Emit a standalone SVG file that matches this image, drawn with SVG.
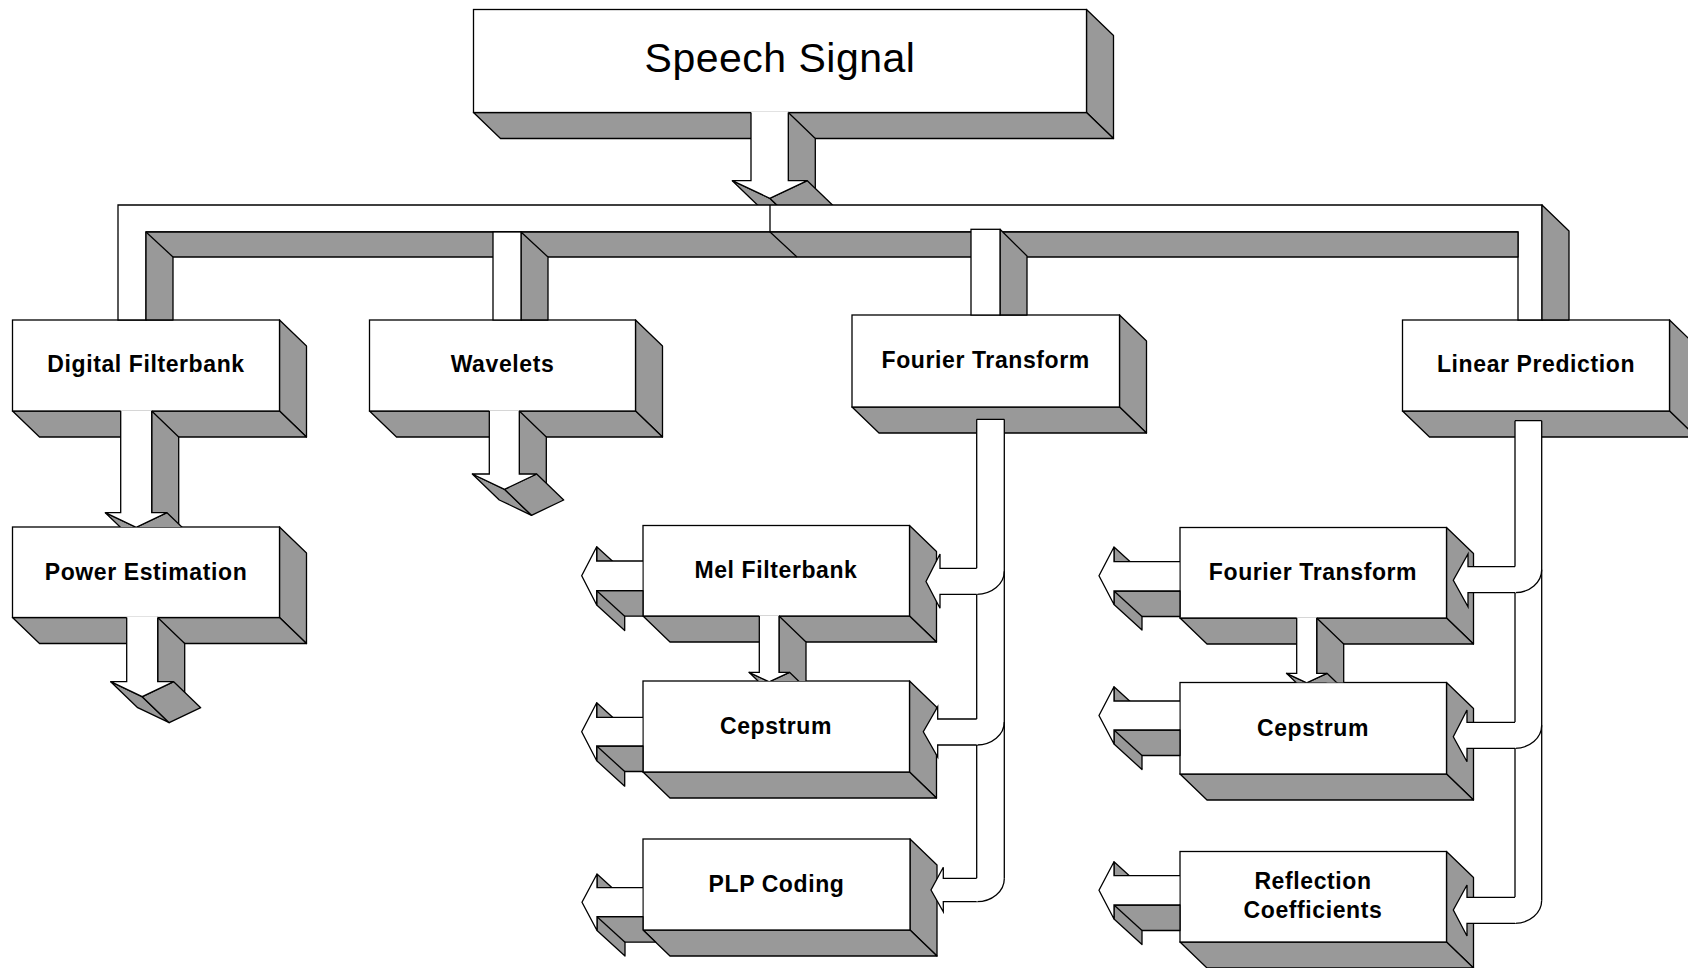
<svg xmlns="http://www.w3.org/2000/svg" width="1688" height="968" viewBox="0 0 1688 968">
<style>
.f{fill:#fff;stroke:#000;stroke-width:1.3}
.g{fill:#999;stroke:#000;stroke-width:1.3;stroke-linejoin:round}
.w{fill:#fff;stroke:none}
.l{fill:none;stroke:#000;stroke-width:1.3;stroke-linejoin:miter}
.t{font-family:"Liberation Sans",Arial,Helvetica,sans-serif;font-weight:bold;font-size:23px;letter-spacing:0.6px;text-anchor:middle;fill:#000}
.big{font-family:"Liberation Sans",Arial,Helvetica,sans-serif;font-size:41px;letter-spacing:0.5px;text-anchor:middle;fill:#000}
</style>
<defs>
<clipPath id="cPE"><rect x="0" y="0" width="1688" height="527"/></clipPath>
<clipPath id="cCep"><rect x="0" y="0" width="1688" height="681"/></clipPath>
<clipPath id="cCepr"><rect x="0" y="0" width="1688" height="682.5"/></clipPath>
</defs>
<rect x="0" y="0" width="1688" height="968" fill="#fff"/>

<g id="nodes">
<g id="speech-signal">
<polygon class="g" points="1086.5,9.5 1113.5,35.5 1113.5,138.5 1086.5,112.5"/>
<polygon class="g" points="473.5,112.5 1086.5,112.5 1113.5,138.5 500.5,138.5"/>
<rect class="f" x="473.5" y="9.5" width="613" height="103"/>
<text class="big" x="780" y="72">Speech Signal</text>
</g>
<g id="digital-filterbank">
<polygon class="g" points="279.5,320 306.5,346 306.5,437 279.5,411"/>
<polygon class="g" points="12.5,411 279.5,411 306.5,437 39.5,437"/>
<rect class="f" x="12.5" y="320" width="267" height="91"/>
<text class="t" x="146" y="372">Digital Filterbank</text>
</g>
<g id="wavelets">
<polygon class="g" points="635.5,320 662.5,346 662.5,437 635.5,411"/>
<polygon class="g" points="369.5,411 635.5,411 662.5,437 396.5,437"/>
<rect class="f" x="369.5" y="320" width="266" height="91"/>
<text class="t" x="502.5" y="372">Wavelets</text>
</g>
<g id="fourier-transform-1">
<polygon class="g" points="1119.5,315 1146.5,341 1146.5,433 1119.5,407"/>
<polygon class="g" points="852,407 1119.5,407 1146.5,433 879,433"/>
<rect class="f" x="852" y="315" width="267.5" height="92"/>
<text class="t" x="985.7" y="368">Fourier Transform</text>
</g>
<g id="linear-prediction">
<polygon class="g" points="1669.5,320 1696.5,346 1696.5,437 1669.5,411"/>
<polygon class="g" points="1402.5,411 1669.5,411 1696.5,437 1429.5,437"/>
<rect class="f" x="1402.5" y="320" width="267" height="91"/>
<text class="t" x="1536" y="372">Linear Prediction</text>
</g>
<g id="power-estimation">
<polygon class="g" points="279.5,527 306.5,553 306.5,643.5 279.5,617.5"/>
<polygon class="g" points="12.5,617.5 279.5,617.5 306.5,643.5 39.5,643.5"/>
<rect class="f" x="12.5" y="527" width="267" height="90.5"/>
<text class="t" x="146" y="580">Power Estimation</text>
</g>
<g id="mel-filterbank">
<polygon class="g" points="909.5,525.5 936.5,551.5 936.5,642 909.5,616"/>
<polygon class="g" points="643,616 909.5,616 936.5,642 670,642"/>
<rect class="f" x="643" y="525.5" width="266.5" height="90.5"/>
<text class="t" x="776" y="577.5">Mel Filterbank</text>
</g>
<g id="cepstrum-1">
<polygon class="g" points="909.5,681 936.5,707 936.5,798 909.5,772"/>
<polygon class="g" points="643,772 909.5,772 936.5,798 670,798"/>
<rect class="f" x="643" y="681" width="266.5" height="91"/>
<text class="t" x="776" y="734">Cepstrum</text>
</g>
<g id="plp-coding">
<polygon class="g" points="910,839 937,865 937,956 910,930"/>
<polygon class="g" points="643,930 910,930 937,956 670,956"/>
<rect class="f" x="643" y="839" width="267" height="91"/>
<text class="t" x="776.5" y="891.5">PLP Coding</text>
</g>
<g id="fourier-transform-2">
<polygon class="g" points="1446.5,527.5 1473.5,553.5 1473.5,644 1446.5,618"/>
<polygon class="g" points="1180,618 1446.5,618 1473.5,644 1207,644"/>
<rect class="f" x="1180" y="527.5" width="266.5" height="90.5"/>
<text class="t" x="1313" y="580">Fourier Transform</text>
</g>
<g id="cepstrum-2">
<polygon class="g" points="1446.5,682.5 1473.5,708.5 1473.5,800 1446.5,774"/>
<polygon class="g" points="1180,774 1446.5,774 1473.5,800 1207,800"/>
<rect class="f" x="1180" y="682.5" width="266.5" height="91.5"/>
<text class="t" x="1313" y="735.5">Cepstrum</text>
</g>
<g id="reflection-coefficients">
<polygon class="g" points="1446.5,851.5 1473.5,877.5 1473.5,968 1446.5,942"/>
<polygon class="g" points="1180,942 1446.5,942 1473.5,968 1207,968"/>
<rect class="f" x="1180" y="851.5" width="266.5" height="90.5"/>
<text class="t" x="1313" y="889">Reflection</text>
<text class="t" x="1313" y="917.5">Coefficients</text>
</g>
</g>

<g id="connectors">
<!-- Speech Signal down arrow -->
<g id="arrow-speech">
<polygon class="g" points="788.3,112.5 815.3,138.5 815.3,206.7 788.3,180.7"/>
<polygon class="g" points="732.3,180.7 769.8,198.3 796.8,224.3 759.3,206.7"/>
<polygon class="g" points="769.8,198.3 807.3,180.7 834.3,206.7 796.8,224.3"/>
<polygon class="w" points="751,111.8 751,180.7 732.3,180.7 769.8,198.3 807.3,180.7 788.3,180.7 788.3,111.8"/>
<path class="l" d="M751,112.5 V180.7 H732.3 L769.8,198.3 L807.3,180.7 H788.3 V112.5"/>
</g>
<!-- bus -->
<g id="bus">
<polygon class="f" points="118,320 118,205 1542,205 1542,320 1518,320 1518,232 146,232 146,320"/>
<polygon class="g" points="146,232 1518,232 1518,257 173,257 173,320 146,320"/>
<path class="l" d="M146,232 L173,257"/>
<polygon class="g" points="1542,205 1569,231 1569,320 1542,320"/>
<path class="l" d="M770,205 V232 L797,257"/>
<polygon class="g" points="521,232 548,257 548,320 521,320"/>
<rect class="f" x="493" y="232" width="28" height="88"/>
<polygon class="g" points="1000,229.3 1027,256 1027,315 1000,315"/>
<rect class="f" x="971" y="229.3" width="29" height="85.7"/>
</g>
<!-- Digital Filterbank to Power Estimation -->
<g id="arrow-df-pe" clip-path="url(#cPE)">
<polygon class="g" points="151.7,411 178.7,437 178.7,538.7 151.7,512.7"/>
<polygon class="g" points="105.3,512.7 136.2,527.3 163.2,553.3 132.3,538.7"/>
<polygon class="g" points="136.2,527.3 167,512.7 194,538.7 163.2,553.3"/>
<polygon class="w" points="120.7,410.3 120.7,512.7 105.3,512.7 136.2,527.3 167,512.7 151.7,512.7 151.7,410.3"/>
<path class="l" d="M120.7,411 V512.7 H105.3 L136.2,527.3 L167,512.7 H151.7 V411"/>
</g>
<!-- Wavelets out -->
<g id="arrow-wavelets">
<polygon class="g" points="519.3,411 546.3,437 546.3,500 519.3,474"/>
<polygon class="g" points="472.3,474 504.5,489.3 531.5,515.3 499.3,500"/>
<polygon class="g" points="504.5,489.3 536.7,474 563.7,500 531.5,515.3"/>
<polygon class="w" points="489.3,410.3 489.3,474 472.3,474 504.5,489.3 536.7,474 519.3,474 519.3,410.3"/>
<path class="l" d="M489.3,411 V474 H472.3 L504.5,489.3 L536.7,474 H519.3 V411"/>
</g>
<!-- Power Estimation out -->
<g id="arrow-pe">
<polygon class="g" points="157.7,617.5 184.7,643.5 184.7,707.7 157.7,681.7"/>
<polygon class="g" points="110.7,681.7 142.2,696.7 169.2,722.7 137.7,707.7"/>
<polygon class="g" points="142.2,696.7 173.7,681.7 200.7,707.7 169.2,722.7"/>
<polygon class="w" points="126.7,616.8 126.7,681.7 110.7,681.7 142.2,696.7 173.7,681.7 157.7,681.7 157.7,616.8"/>
<path class="l" d="M126.7,617.5 V681.7 H110.7 L142.2,696.7 L173.7,681.7 H157.7 V617.5"/>
</g>
<!-- Mel to Cepstrum -->
<g id="arrow-mel-cep" clip-path="url(#cCep)">
<polygon class="g" points="779,616 806,642 806,698.3 779,672.3"/>
<polygon class="g" points="749,672.3 769.2,681.8 796.2,707.8 776,698.3"/>
<polygon class="g" points="769.2,681.8 789.5,672.3 816.5,698.3 796.2,707.8"/>
<polygon class="w" points="759.3,615.3 759.3,672.3 749,672.3 769.2,681.8 789.5,672.3 779,672.3 779,615.3"/>
<path class="l" d="M759.3,616 V672.3 H749 L769.2,681.8 L789.5,672.3 H779 V616"/>
</g>
<!-- FT (right) to Cepstrum (right) -->
<g id="arrow-ft-cep" clip-path="url(#cCepr)">
<polygon class="g" points="1316.7,618 1343.7,644 1343.7,699.3 1316.7,673.3"/>
<polygon class="g" points="1286.5,673.3 1306.7,682.8 1333.7,708.8 1313.5,699.3"/>
<polygon class="g" points="1306.7,682.8 1327,673.3 1354,699.3 1333.7,708.8"/>
<polygon class="w" points="1296.7,617.3 1296.7,673.3 1286.5,673.3 1306.7,682.8 1327,673.3 1316.7,673.3 1316.7,617.3"/>
<path class="l" d="M1296.7,618 V673.3 H1286.5 L1306.7,682.8 L1327,673.3 H1316.7 V618"/>
</g>
<!-- left outputs, middle column -->
<g id="out-mel">
<polygon class="g" points="596.7,546.7 596.7,561 624.7,586.5 624.7,572.2"/>
<polygon class="g" points="596.7,590.7 643,590.7 643,616.2 624.7,616.2 624.7,630.5 596.7,605"/>
<path class="l" d="M596.7,590.7 L624.7,616.2"/>
<polygon class="w" points="642.3,561 596.7,561 596.7,546.7 581.7,575.8 596.7,605 596.7,590.7 642.3,590.7"/>
<path class="l" d="M643,561 H596.7 V546.7 L581.7,575.8 L596.7,605 V590.7 H643"/>
</g>
<g id="out-cep1">
<polygon class="g" points="596.7,702.7 596.7,717.3 624.7,742.8 624.7,728.2"/>
<polygon class="g" points="596.7,746 643,746 643,771.5 624.7,771.5 624.7,786.2 596.7,760.7"/>
<path class="l" d="M596.7,746 L624.7,771.5"/>
<polygon class="w" points="642.3,717.3 596.7,717.3 596.7,702.7 581.7,731.7 596.7,760.7 596.7,746 642.3,746"/>
<path class="l" d="M643,717.3 H596.7 V702.7 L581.7,731.7 L596.7,760.7 V746 H643"/>
</g>
<g id="out-plp">
<polygon class="g" points="597,874 597,887.7 625,913.2 625,899.5"/>
<polygon class="g" points="597,916.7 643,916.7 643,930 655.8,942.2 625,942.2 625,956 597,930.5"/>
<path class="l" d="M597,916.7 L625,942.2"/>
<polygon class="w" points="642.3,887.7 597,887.7 597,874 582,902.2 597,930.5 597,916.7 642.3,916.7"/>
<path class="l" d="M643,887.7 H597 V874 L582,902.2 L597,930.5 V916.7 H643"/>
</g>
<!-- left outputs, right column -->
<g id="out-ft2">
<polygon class="g" points="1114,547 1114,561.7 1142,587.2 1142,572.5"/>
<polygon class="g" points="1114,591 1180,591 1180,616.5 1142,616.5 1142,630 1114,604.5"/>
<path class="l" d="M1114,591 L1142,616.5"/>
<polygon class="w" points="1179.3,561.7 1114,561.7 1114,547 1099,575.8 1114,604.5 1114,591 1179.3,591"/>
<path class="l" d="M1180,561.7 H1114 V547 L1099,575.8 L1114,604.5 V591 H1180"/>
</g>
<g id="out-cep2">
<polygon class="g" points="1114,686.7 1114,701 1142,726.5 1142,712.2"/>
<polygon class="g" points="1114,730 1180,730 1180,755.5 1142,755.5 1142,769.5 1114,744"/>
<path class="l" d="M1114,730 L1142,755.5"/>
<polygon class="w" points="1179.3,701 1114,701 1114,686.7 1099,715.5 1114,744 1114,730 1179.3,730"/>
<path class="l" d="M1180,701 H1114 V686.7 L1099,715.5 L1114,744 V730 H1180"/>
</g>
<g id="out-rc">
<polygon class="g" points="1114,861.7 1114,875.7 1142,901.2 1142,887.2"/>
<polygon class="g" points="1114,905 1180,905 1180,930.5 1142,930.5 1142,944.5 1114,919"/>
<path class="l" d="M1114,905 L1142,930.5"/>
<polygon class="w" points="1179.3,875.7 1114,875.7 1114,861.7 1099,890.3 1114,919 1114,905 1179.3,905"/>
<path class="l" d="M1180,875.7 H1114 V861.7 L1099,890.3 L1114,919 V905 H1180"/>
</g>
<!-- Fourier Transform pipe -->
<g id="pipe-ft">
<path class="w" d="M976.7,419.3 H1004.3 V878.7 A27.6 23 0 0 1 976.7,901.7 Z"/>
<path class="l" d="M976.7,419.3 H1004.3 M1004.3,419.3 V878.7 M976.7,419.3 V568.3 M976.7,594.3 V719 M976.7,745 V878.3"/>
<path class="l" d="M976.7,594.3 A27.6 23 0 0 0 1004.3,571.3 M976.7,745 A27.6 23 0 0 0 1004.3,722 M976.7,901.7 A27.6 23 0 0 0 1004.3,878.7"/>
<polygon class="w" points="977.5,568.3 940,568.3 940,554 926,581.5 940,608.3 940,594.3 977.5,594.3"/>
<path class="l" d="M976.7,568.3 H940 V554 L926,581.5 L940,608.3 V594.3 H976.7"/>
<polygon class="w" points="977.5,719 937.7,719 937.7,706.7 923.3,731.7 937.7,757 937.7,745 977.5,745"/>
<path class="l" d="M976.7,719 H937.7 V706.7 L923.3,731.7 L937.7,757 V745 H976.7"/>
<polygon class="w" points="977.5,878.3 943.3,878.3 943.3,867.3 931,890 943.3,911.7 943.3,901.7 977.5,901.7"/>
<path class="l" d="M976.7,878.3 H943.3 V867.3 L931,890 L943.3,911.7 V901.7 H976.7"/>
</g>
<!-- Linear Prediction pipe -->
<g id="pipe-lp">
<path class="w" d="M1515,420.7 H1541.7 V900.3 A26.7 23 0 0 1 1515,923.3 Z"/>
<path class="l" d="M1515,420.7 H1541.7 M1541.7,420.7 V900.3 M1515,420.7 V566.7 M1515,592.7 V722.3 M1515,748.3 V897.3"/>
<path class="l" d="M1515,592.7 A26.7 23 0 0 0 1541.7,569.7 M1515,748.3 A26.7 23 0 0 0 1541.7,725.3 M1515,923.3 A26.7 23 0 0 0 1541.7,900.3"/>
<polygon class="w" points="1515.8,566.7 1468,566.7 1468,554 1453.3,580.3 1468,606.7 1468,592.7 1515.8,592.7"/>
<path class="l" d="M1515,566.7 H1468 V554 L1453.3,580.3 L1468,606.7 V592.7 H1515"/>
<polygon class="w" points="1515.8,722.3 1467,722.3 1467,710 1453.3,736.7 1467,761.7 1467,748.3 1515.8,748.3"/>
<path class="l" d="M1515,722.3 H1467 V710 L1453.3,736.7 L1467,761.7 V748.3 H1515"/>
<polygon class="w" points="1515.8,897.3 1467,897.3 1467,885 1453.3,910 1467,936 1467,923.3 1515.8,923.3"/>
<path class="l" d="M1515,897.3 H1467 V885 L1453.3,910 L1467,936 V923.3 H1515"/>
</g>
</g>
</svg>
